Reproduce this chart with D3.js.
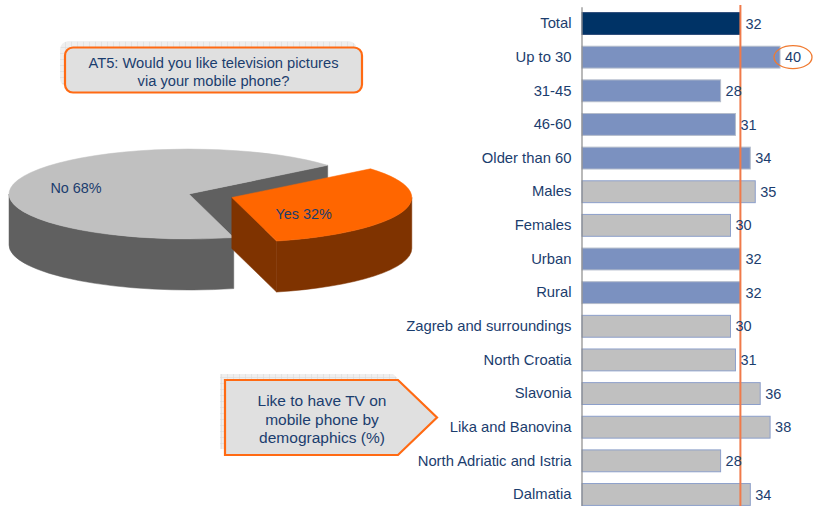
<!DOCTYPE html>
<html>
<head>
<meta charset="utf-8">
<script src="https://cdn.jsdelivr.net/npm/d3@7"></script>
<style>
  html, body { margin: 0; padding: 0; background: #fff; }
  svg { display: block; font-family: "Liberation Sans", Arial, sans-serif; }
</style>
</head>
<body>
<svg id="chart" width="834" height="506"></svg>
<script>
// Survey answers: would you like TV pictures on your mobile phone
const pieLabels = ["Yes", "No"];
const pieValues = [32, 68];

// Share who would like TV on mobile phone, by demographic group (%)
const categories = [
  "Total", "Up to 30", "31-45", "46-60", "Older than 60",
  "Males", "Females", "Urban", "Rural",
  "Zagreb and surroundings", "North Croatia", "Slavonia",
  "Lika and Banovina", "North Adriatic and Istria", "Dalmatia"
];
const values = [32, 40, 28, 31, 34, 35, 30, 32, 32, 30, 31, 36, 38, 28, 34];
const groups = [
  "total", "age", "age", "age", "age",
  "gender", "gender", "settlement", "settlement",
  "region", "region", "region", "region", "region", "region"
];
const highlighted = "Up to 30";

const titleLines = ["AT5: Would you like television pictures", "via your mobile phone?"];
const calloutLines = ["Like to have TV on", "mobile phone by", "demographics (%)"];

const textColor = "#1b3d6e";
const svg = d3.select("#chart");

// ---------- grid pattern used for the box shadows ----------
const defs = svg.append("defs");
const pat = defs.append("pattern")
  .attr("id", "grid").attr("width", 6).attr("height", 6)
  .attr("patternUnits", "userSpaceOnUse");
pat.append("rect").attr("width", 6).attr("height", 6).attr("fill", "#ededed");
pat.append("path").attr("d", "M6 0V6M0 6H6").attr("stroke", "#d4d4d4").attr("stroke-width", 1);

// ---------- title box ----------
const tb = { x: 65, y: 47.5, w: 297, h: 45 };
svg.append("rect").attr("x", tb.x - 5).attr("y", tb.y - 6).attr("width", tb.w).attr("height", tb.h)
  .attr("rx", 8).attr("fill", "url(#grid)").attr("opacity", 0.9);
svg.append("rect").attr("x", tb.x).attr("y", tb.y).attr("width", tb.w).attr("height", tb.h)
  .attr("rx", 8).attr("fill", "#e0e0e0").attr("stroke", "#ff6a13").attr("stroke-width", 2.2);
svg.append("g").selectAll("text").data(titleLines).join("text")
  .attr("x", tb.x + tb.w / 2).attr("y", (d, i) => 62.5 + i * 18.2)
  .attr("text-anchor", "middle").attr("dy", "0.35em")
  .attr("fill", textColor).attr("font-size", 14.7).text(d => d);

// ---------- exploded 3D pie ----------
const cx = 189, cy = 194, rx = 180, ry = 45, depth = 51, explode = 45;
const startDeg = 50.4;
const pie = d3.pie().sort(null).value(d => d.value)
  .startAngle(startDeg * Math.PI / 180)
  .endAngle(startDeg * Math.PI / 180 + 2 * Math.PI);
const pieData = pieLabels.map((l, i) => ({ label: l, value: pieValues[i] }));
const slices = pie(pieData).map(a => {
  const t0 = a.startAngle - Math.PI / 2, t1 = a.endAngle - Math.PI / 2;
  const tm = (t0 + t1) / 2;
  const ex = a.data.label === "Yes" ? explode : 0;
  return { a, t0, t1, tm, ox: ex * Math.cos(tm), oy: ex * Math.sin(tm) * ry / rx };
});
const colors = {
  Yes: { top: "#ff6600", side: "#7f3300" },
  No: { top: "#c0c0c0", side: "#606060" }
};
const labelPlace = { Yes: { f: 0.42, dy: 11 }, No: { f: 0.66, dy: 3 } };

function P(s, t, z = 0, f = 1) {
  return [cx + s.ox + f * rx * Math.cos(t), cy + s.oy + f * ry * Math.sin(t) + z];
}
const pt = p => p[0].toFixed(2) + "," + p[1].toFixed(2);

const pieG = svg.append("g");
// back slices first
slices.slice().sort((p, q) => Math.sin(p.tm) - Math.sin(q.tm)).forEach(s => {
  const c = colors[s.a.data.label];
  const apex = [cx + s.ox, cy + s.oy];
  const apexB = [apex[0], apex[1] + depth];
  // radial cut faces that turn towards the viewer
  [[s.t0, Math.cos(s.t0) < 0], [s.t1, Math.cos(s.t1) > 0]].forEach(([t, vis]) => {
    if (!vis) return;
    pieG.append("path")
      .attr("d", `M${pt(apex)}L${pt(P(s, t))}L${pt(P(s, t, depth))}L${pt(apexB)}Z`)
      .attr("fill", c.side).attr("stroke", c.side).attr("stroke-width", 0.5);
  });
  // outer curved wall, front half only
  for (let k = -1; k <= 1; k++) {
    const a0 = Math.max(s.t0, 2 * k * Math.PI), a1 = Math.min(s.t1, 2 * k * Math.PI + Math.PI);
    if (a1 <= a0) continue;
    pieG.append("path")
      .attr("d", `M${pt(P(s, a0))}A${rx},${ry} 0 0 1 ${pt(P(s, a1))}` +
        `L${pt(P(s, a1, depth))}A${rx},${ry} 0 0 0 ${pt(P(s, a0, depth))}Z`)
      .attr("fill", c.side).attr("stroke", c.side).attr("stroke-width", 0.5);
  }
  // top face
  const large = (s.t1 - s.t0) > Math.PI ? 1 : 0;
  pieG.append("path")
    .attr("d", `M${pt(apex)}L${pt(P(s, s.t0))}A${rx},${ry} 0 ${large} 1 ${pt(P(s, s.t1))}Z`)
    .attr("fill", c.top).attr("stroke", c.top).attr("stroke-width", 0.5);
});
slices.forEach(s => {
  const lp = labelPlace[s.a.data.label];
  const p = P(s, s.tm, 0, lp.f);
  pieG.append("text")
    .attr("x", p[0]).attr("y", p[1] + lp.dy).attr("dy", "0.35em")
    .attr("text-anchor", "middle").attr("fill", textColor).attr("font-size", 14.4)
    .text(`${s.a.data.label} ${s.a.data.value}%`);
});

// ---------- callout arrow box ----------
const cb = { x: 225, y: 380, w: 173, h: 75, tip: 39 };
const arrowPts = (dx, dy) => [
  [cb.x + dx, cb.y + dy], [cb.x + cb.w + dx, cb.y + dy],
  [cb.x + cb.w + cb.tip + dx, cb.y + cb.h / 2 + dy],
  [cb.x + cb.w + dx, cb.y + cb.h + dy], [cb.x + dx, cb.y + cb.h + dy]
];
svg.append("polygon").attr("points", arrowPts(-5, -6).map(pt).join(" "))
  .attr("fill", "url(#grid)").attr("opacity", 0.9);
svg.append("polygon").attr("points", arrowPts(0, 0).map(pt).join(" "))
  .attr("fill", "#e0e0e0").attr("stroke", "#ff6a13").attr("stroke-width", 2.2);
svg.append("g").selectAll("text").data(calloutLines).join("text")
  .attr("x", 322).attr("y", (d, i) => 401 + i * 18.5).attr("dy", "0.35em")
  .attr("text-anchor", "middle").attr("fill", textColor).attr("font-size", 15.5).text(d => d);

// ---------- horizontal bar chart ----------
const x0 = 582;
const x = d3.scaleLinear().domain([0, 50]).range([x0, x0 + 50 * 4.95]);
const y = d3.scaleBand().domain(categories).range([6.7, 511.3])
  .paddingInner(0.35).paddingOuter(0.175);

const fillFor = { total: "#003366", age: "#7b91c0", settlement: "#7b91c0", gender: "#c0c0c0", region: "#c0c0c0" };
const strokeFor = { total: "#2a4a78", age: "#b4bccb", settlement: "#b4bccb", gender: "#8c9fca", region: "#8c9fca" };

const rows = categories.map((c, i) => ({ c, v: values[i], g: groups[i] }));

const barG = svg.append("g");
barG.selectAll("rect").data(rows).join("rect")
  .attr("x", x(0)).attr("y", d => y(d.c))
  .attr("width", d => x(d.v) - x(0)).attr("height", y.bandwidth())
  .attr("fill", d => fillFor[d.g]).attr("stroke", d => strokeFor[d.g]).attr("stroke-width", 1);

const axis = svg.append("g").attr("transform", `translate(${x0 - 0.5},0)`)
  .call(d3.axisLeft(y).tickSize(0).tickSizeOuter(0).tickPadding(10));
axis.select(".domain").attr("stroke", "#8a8a8a").attr("stroke-width", 1.2);
axis.selectAll("text").attr("fill", textColor).attr("font-size", 14.8)
  .attr("font-family", "'Liberation Sans', Arial, sans-serif");

// average line at the Total value
svg.append("line")
  .attr("x1", x(values[0])).attr("x2", x(values[0]))
  .attr("y1", 5).attr("y2", 506)
  .attr("stroke", "#f07a4a").attr("stroke-width", 2);

const valG = svg.append("g");
valG.selectAll("text").data(rows).join("text")
  .attr("x", d => x(d.v) + 5).attr("y", d => y(d.c) + y.bandwidth() / 2)
  .attr("dy", "0.35em").attr("fill", textColor).attr("font-size", 14.5)
  .text(d => d.v);

// ring around the highest group
const hi = rows.find(d => d.c === highlighted);
svg.append("ellipse")
  .attr("cx", x(hi.v) + 13).attr("cy", y(hi.c) + y.bandwidth() / 2)
  .attr("rx", 19).attr("ry", 11.5)
  .attr("fill", "none").attr("stroke", "#f07a30").attr("stroke-width", 1.3);
</script>
</body>
</html>
